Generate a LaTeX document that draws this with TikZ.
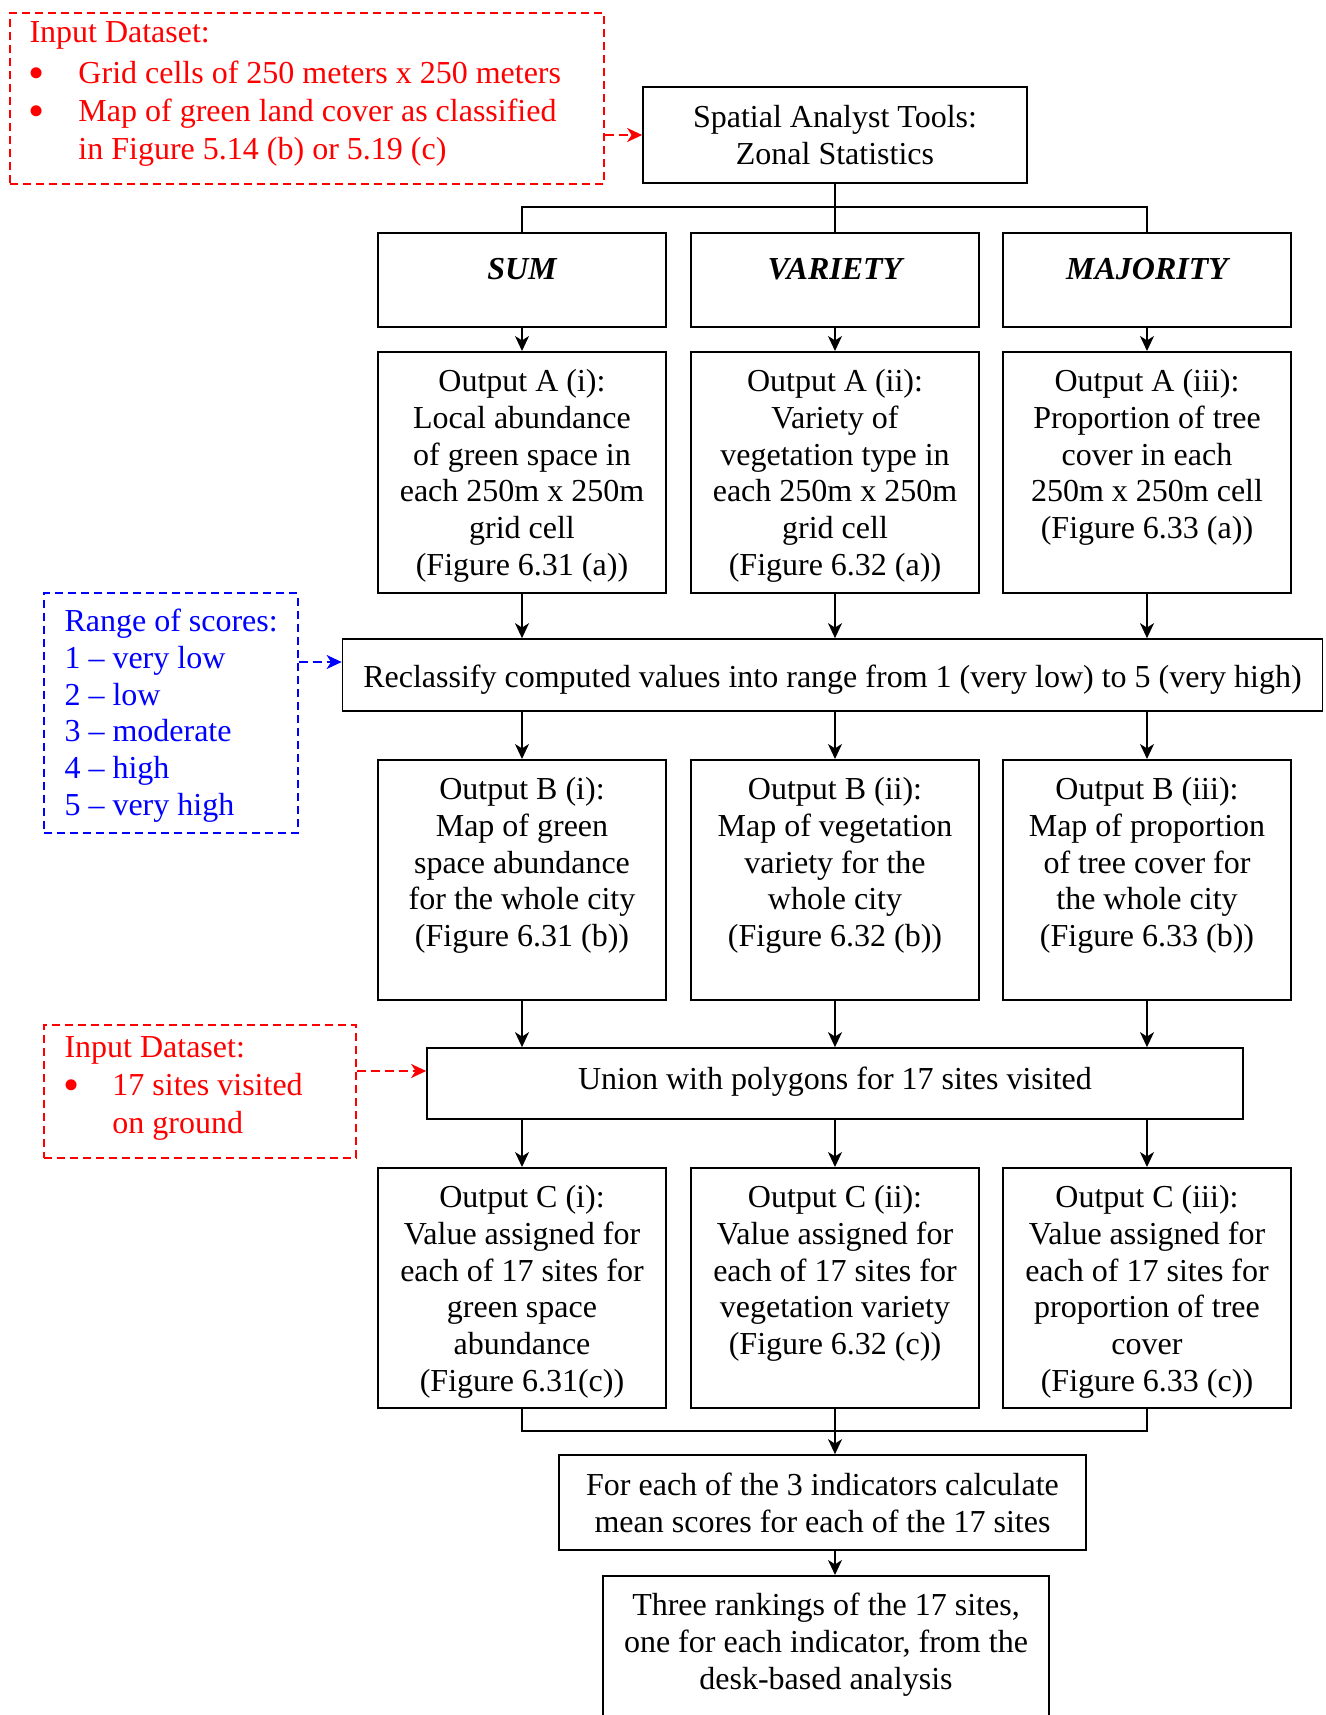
\documentclass[tikz,border=0pt]{standalone}
\usepackage{fontspec}
\setmainfont{Liberation Serif}
\usetikzlibrary{arrows.meta}

% text block hung from the top of a box, centred
\newcommand{\ctrcell}[3]{\begin{minipage}[t][#2][t]{#1}\centering\vspace*{6.9pt}\strut#3\end{minipage}}
% text block hung from the top of a box, flush left: width, height, top pad, left pad, text
\newcommand{\leftcell}[5]{\begin{minipage}[t][#2][t]{#1}\raggedright\leftskip=#4\relax\vspace*{#3}\strut#5\end{minipage}}
% bullet with its hanging indent
\newcommand{\bul}[1]{\makebox[#1][l]{\hspace{-0.3pt}\smash{\raisebox{-2.4pt}{\fontsize{23pt}{18pt}\selectfont\textbullet}}}}

\tikzset{
  ln/.style={line width=0.75pt},
  tip/.style={-{Stealth[length=7.5pt,width=7pt,inset=2.2pt]}},
  arr/.style={ln, tip},
  redarr/.style={line width=1pt, red, dash pattern=on 4.5pt off 2.5pt, tip},
  bluearr/.style={line width=1pt, blue, dash pattern=on 4.5pt off 2.5pt, tip},
  blk/.style={draw, line width=0.85pt, inner sep=0pt, anchor=north},
  plainbox/.style={draw, line width=0.85pt, inner sep=0pt, align=center},
  opbox/.style={blk, minimum width=144pt, minimum height=47pt, text height=8pt, text depth=8pt, font=\fontsize{16pt}{18.4pt}\selectfont\bfseries\itshape},
  redbox/.style={draw=red, text=red, line width=1pt, dash pattern=on 4pt off 2.5pt, inner sep=0pt, anchor=north west},
  bluebox/.style={draw=blue, text=blue, line width=1pt, dash pattern=on 4pt off 2.5pt, inner sep=0pt, anchor=north west},
}

\begin{document}
\begin{tikzpicture}[x=0.5pt, y=-0.5pt, font=\fontsize{16pt}{18.4pt}\selectfont]
\useasboundingbox (0,0) rectangle (1326,1715);
\fill[white] (0,0) rectangle (1326,1715);

% input data sets and score legend
\node[redbox] (in1) at (9,12) {\leftcell{297pt}{85.5pt}{2.1pt}{9.75pt}{Input Dataset:\\[2pt]
  \bul{24.5pt}Grid cells of 250 meters x 250 meters\\[0.6pt]
  \bul{24.5pt}Map of green land cover as classified\\[0.4pt]
  \hspace*{24.5pt}in Figure 5.14 (b) or 5.19 (c)}};
\node[bluebox] (legend) at (42.7,592) {\leftcell{127pt}{119.75pt}{6.4pt}{10.4pt}{Range of scores:\\
  1 -- very low\\2 -- low\\3 -- moderate\\4 -- high\\5 -- very high}};
\node[redbox] (in2) at (42.7,1024) {\leftcell{156pt}{66.5pt}{3.6pt}{10.4pt}{Input Dataset:\\[0.5pt]
  \bul{24pt}17 sites visited\\[0.5pt]
  \hspace*{24pt}on ground}};

% tool
\node[plainbox, minimum width=192pt, minimum height=47.75pt] (spatial) at (835,135) {Spatial Analyst Tools:\\Zonal Statistics};

% statistics
\node[opbox] (s1) at (522,232) {SUM};
\node[opbox] (s2) at (835,232) {VARIETY};
\node[opbox] (s3) at (1147,232) {MAJORITY};

% outputs A
\node[blk] (a1) at (522,351) {\ctrcell{144pt}{120.5pt}{Output A (i):\\Local abundance\\of green space in\\each 250m x 250m\\grid cell\\(Figure 6.31 (a))}};
\node[blk] (a2) at (835,351) {\ctrcell{144pt}{120.5pt}{Output A (ii):\\Variety of\\vegetation type in\\each 250m x 250m\\grid cell\\(Figure 6.32 (a))}};
\node[blk] (a3) at (1147,351) {\ctrcell{144pt}{120.5pt}{Output A (iii):\\Proportion of tree\\cover in each\\250m x 250m cell\\(Figure 6.33 (a))}};

\node[plainbox, minimum width=490pt, minimum height=36pt, text height=13pt, text depth=0.8pt] (reclass) at (832.5,675) {Reclassify computed values into range from 1 (very low) to 5 (very high)};

% outputs B
\node[blk] (b1) at (522,759) {\ctrcell{144pt}{120pt}{Output B (i):\\Map of green\\space abundance\\for the whole city\\(Figure 6.31 (b))}};
\node[blk] (b2) at (835,759) {\ctrcell{144pt}{120pt}{Output B (ii):\\Map of vegetation\\variety for the\\whole city\\(Figure 6.32 (b))}};
\node[blk] (b3) at (1147,759) {\ctrcell{144pt}{120pt}{Output B (iii):\\Map of proportion\\of tree cover for\\the whole city\\(Figure 6.33 (b))}};

\node[plainbox, minimum width=408pt, minimum height=35.5pt, text height=10pt, text depth=4pt] (union) at (835,1083.5) {Union with polygons for 17 sites visited};

% outputs C
\node[blk] (c1) at (522,1167) {\ctrcell{144pt}{120pt}{Output C (i):\\Value assigned for\\each of 17 sites for\\green space\\abundance\\(Figure 6.31(c))}};
\node[blk] (c2) at (835,1167) {\ctrcell{144pt}{120pt}{Output C (ii):\\Value assigned for\\each of 17 sites for\\vegetation variety\\(Figure 6.32 (c))}};
\node[blk] (c3) at (1147,1167) {\ctrcell{144pt}{120pt}{Output C (iii):\\Value assigned for\\each of 17 sites for\\proportion of tree\\cover\\(Figure 6.33 (c))}};

\node[plainbox, minimum width=263.5pt, minimum height=47.5pt] (mean) at (822.5,1502.5) {For each of the 3 indicators calculate\\mean scores for each of the 17 sites};
\node[blk] (final) at (826,1575) {\ctrcell{223pt}{125pt}{Three rankings of the 17 sites,\\one for each indicator, from the\\desk-based analysis}};

% dashed inputs
\draw[redarr] (in1.east |- spatial.west) -- (spatial.west);
\draw[bluearr] (legend.east |- 0,662) -- (reclass.west |- 0,662);
\draw[redarr] (in2.east |- 0,1071) -- (union.west |- 0,1071);

% split into the three statistics
\coordinate (split) at (835,207);
\draw[ln] (spatial.south) -- (s2.north);
\draw[ln] (s1.north) |- (split) -| (s3.north);

% column flow
\foreach \i in {1,2,3}{
  \draw[arr] (s\i.south) -- (a\i.north);
  \draw[arr] (a\i.south) -- (a\i.south |- reclass.north);
  \draw[arr] (b\i.north |- reclass.south) -- (b\i.north);
  \draw[arr] (b\i.south) -- (b\i.south |- union.north);
  \draw[arr] (c\i.north |- union.south) -- (c\i.north);
}

% merge and final steps
\coordinate (merge) at (835,1431);
\draw[ln] (c1.south) |- (merge) -| (c3.south);
\draw[arr] (c2.south) -- (c2.south |- mean.north);
\draw[arr] (c2.south |- mean.south) -- (c2.south |- final.north);
\end{tikzpicture}
\end{document}
